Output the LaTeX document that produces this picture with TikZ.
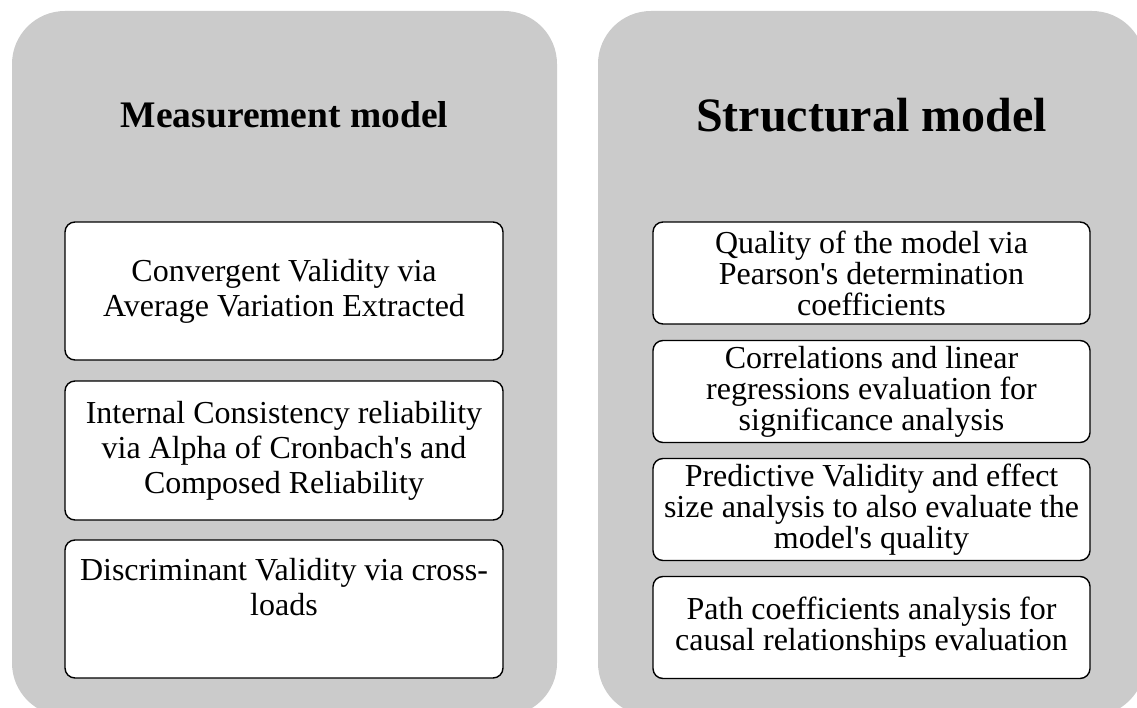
\documentclass[tikz,border=0pt]{standalone}
\usepackage{fontspec}
\setmainfont{Liberation Serif}
\definecolor{panelgray}{RGB}{203,203,203}
\newcommand{\apos}{\textquotesingle}
\begin{document}
\begin{tikzpicture}[x=1pt,y=-1pt,
  panel/.style={fill=panelgray, rounded corners=53pt},
  itembox/.style={draw=black, line width=1.4pt, fill=white, rounded corners=10pt,
    align=center, inner sep=0pt},
  leftfont/.style={font=\fontsize{32}{35}\selectfont},
  lefttext/.style={itembox, leftfont, minimum width=438pt},
  righttext/.style={itembox, minimum width=437pt, minimum height=102pt, font=\fontsize{32}{31}\selectfont},
  titletext/.style={anchor=base, inner sep=0pt}]
\useasboundingbox (0,0) rectangle (1137,708);
\clip (0,0) rectangle (1137,708);
\fill[panel] (12,11) rectangle (557,716);
\fill[panel] (598,11) rectangle (1145,716);
\node[titletext, font=\fontsize{37.5}{40}\selectfont\bfseries] (t1) at (284.5,128) {Measurement model};
\node[titletext, font=\fontsize{48}{52}\selectfont\bfseries] (t2) at (871.5,132) {Structural model};
% left items
\node[lefttext, minimum height=138pt] (l1) at (284,291) {Convergent Validity via\\Average Variation Extracted};
\node[lefttext, minimum height=139pt] (l2) at (284,450.5) {Internal Consistency reliability\\via Alpha of Cronbach\apos s and\\Composed Reliability};
\node[lefttext, minimum height=138pt] (l3) at (284,609) {};
\node[leftfont, align=center, inner sep=0pt] (l3t) at ([yshift=22pt]l3.center) {Discriminant Validity via cross-\\loads};
% right items
\node[righttext] (r1) at (871.5,273) {Quality of the model via\\Pearson\apos s determination\\coefficients};
\node[righttext] (r2) at (871.5,391.5) {Correlations and linear\\regressions evaluation for\\significance analysis};
\node[righttext] (r3) at (871.5,509.5) {Predictive Validity and effect\\size analysis to also evaluate the\\model\apos s quality};
\node[righttext] (r4) at (871.5,627.5) {Path coefficients analysis for\\causal relationships evaluation};
\end{tikzpicture}
\end{document}
